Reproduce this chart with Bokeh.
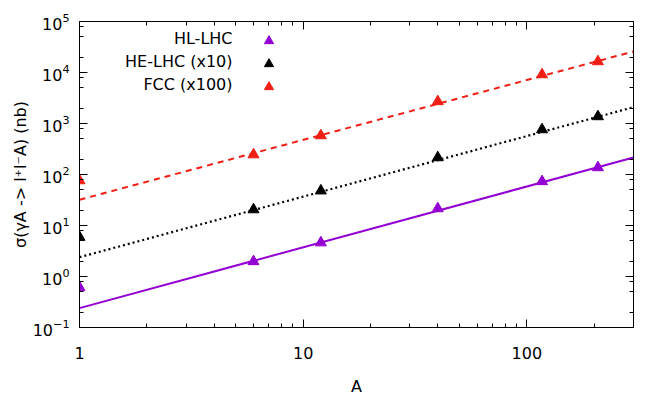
from bokeh.plotting import figure
from bokeh.models import (Range1d, LogAxis, FixedTicker, PrintfTickFormatter,
                          CustomJSTickFormatter, Legend, LegendItem, Label)
from bokeh.embed import file_html
from bokeh.resources import INLINE

# ---- data ----
A = [1, 6, 12, 40, 117, 208]
hl_lhc = [0.61, 1.97, 4.6, 21.5, 73, 137]
he_lhc = [5.9, 20.5, 48, 215, 760, 1370]
fcc = [76, 245, 580, 2700, 9100, 16400]

fit_A = [1, 300]
hl_fit = [0.24, 215]
he_fit = [2.39, 2090]
fcc_fit = [32, 25800]

names = ["HL-LHC", "HE-LHC (x10)", "FCC (x100)"]
x_major = [1, 10, 100]
y_major = [1e-1, 1e0, 1e1, 1e2, 1e3, 1e4, 1e5]

PURPLE = "#9400d3"
BLACK = "#000000"
RED = "#f01e14"
FONT = "DejaVu Sans"

x_minor = [m * 10 ** k for k in range(0, 3) for m in range(2, 10) if m * 10 ** k <= 300]
y_minor = [m * 10.0 ** k for k in range(-1, 5) for m in (2, 5, 8)]

p = figure(width=664, height=399, x_axis_type="log", y_axis_type="log",
           x_range=Range1d(1, 300), y_range=Range1d(0.1, 1e5),
           output_backend="svg", toolbar_location=None,
           min_border_left=79, min_border_right=31, min_border_top=21, min_border_bottom=72)

p.background_fill_color = "white"
p.border_fill_color = "white"
p.outline_line_color = "black"
p.outline_line_width = 1
p.xgrid.visible = False
p.ygrid.visible = False

# fit lines
p.line(fit_A, hl_fit, line_color=PURPLE, line_width=2)
p.line(fit_A, he_fit, line_color=BLACK, line_width=2.2, line_dash="2 3")
p.line(fit_A, fcc_fit, line_color=RED, line_width=2, line_dash="6 5")

# points
r_hl = p.scatter(A, hl_lhc, marker="triangle", size=11, fill_color=PURPLE, line_color=PURPLE)
r_he = p.scatter(A, he_lhc, marker="triangle", size=11, fill_color=BLACK, line_color=BLACK)
r_fcc = p.scatter(A, fcc, marker="triangle", size=11, fill_color=RED, line_color=RED)


def style_axis(ax):
    ax.axis_line_color = "black"
    ax.major_tick_in = 8
    ax.major_tick_out = 0
    ax.minor_tick_in = 4
    ax.minor_tick_out = 0
    ax.major_tick_line_color = "black"
    ax.minor_tick_line_color = "black"
    ax.major_label_text_font = FONT
    ax.major_label_text_font_size = "16px"
    ax.major_label_text_color = "black"
    ax.axis_label_text_font = FONT
    ax.axis_label_text_font_size = "16px"
    ax.axis_label_text_font_style = "normal"
    ax.axis_label_text_color = "black"


xax = p.xaxis[0]
xax.ticker = FixedTicker(ticks=x_major, minor_ticks=x_minor)
xax.formatter = PrintfTickFormatter(format="%d")
xax.axis_label = "A"
style_axis(xax)
xax.major_label_standoff = 19
xax.axis_label_standoff = 15

yax = p.yaxis[0]
yax.ticker = FixedTicker(ticks=y_major, minor_ticks=y_minor)
yax.axis_label = "σ(γA -> l⁺l⁻A) (nb)"
style_axis(yax)
yax.major_label_standoff = 10
yax.axis_label_standoff = 0

blank = CustomJSTickFormatter(code="return ''")
rax = LogAxis(ticker=FixedTicker(ticks=y_major, minor_ticks=y_minor), formatter=blank)
style_axis(rax)
rax.major_label_standoff = 0
p.add_layout(rax, "right")
tax = LogAxis(ticker=FixedTicker(ticks=x_major, minor_ticks=x_minor), formatter=blank)
style_axis(tax)
tax.major_label_standoff = 0
p.add_layout(tax, "above")

# legend: markers via Legend, texts right-aligned to their left
legend = Legend(items=[LegendItem(label=" ", renderers=[r]) for r in (r_hl, r_he, r_fcc)],
                location=(178, 229), padding=0, margin=0, spacing=0,
                glyph_width=23, glyph_height=23, label_height=23,
                border_line_alpha=0, background_fill_alpha=0,
                label_text_font_size="13px")
p.add_layout(legend)

for name, yy in zip(names, [289, 266, 243]):
    p.add_layout(Label(x=153, y=yy, x_units="screen", y_units="screen", text=name,
                       text_align="right", text_baseline="middle",
                       text_font=FONT, text_font_size="16px", text_color="black"))

open("out.html", "w").write(file_html(p, INLINE))
